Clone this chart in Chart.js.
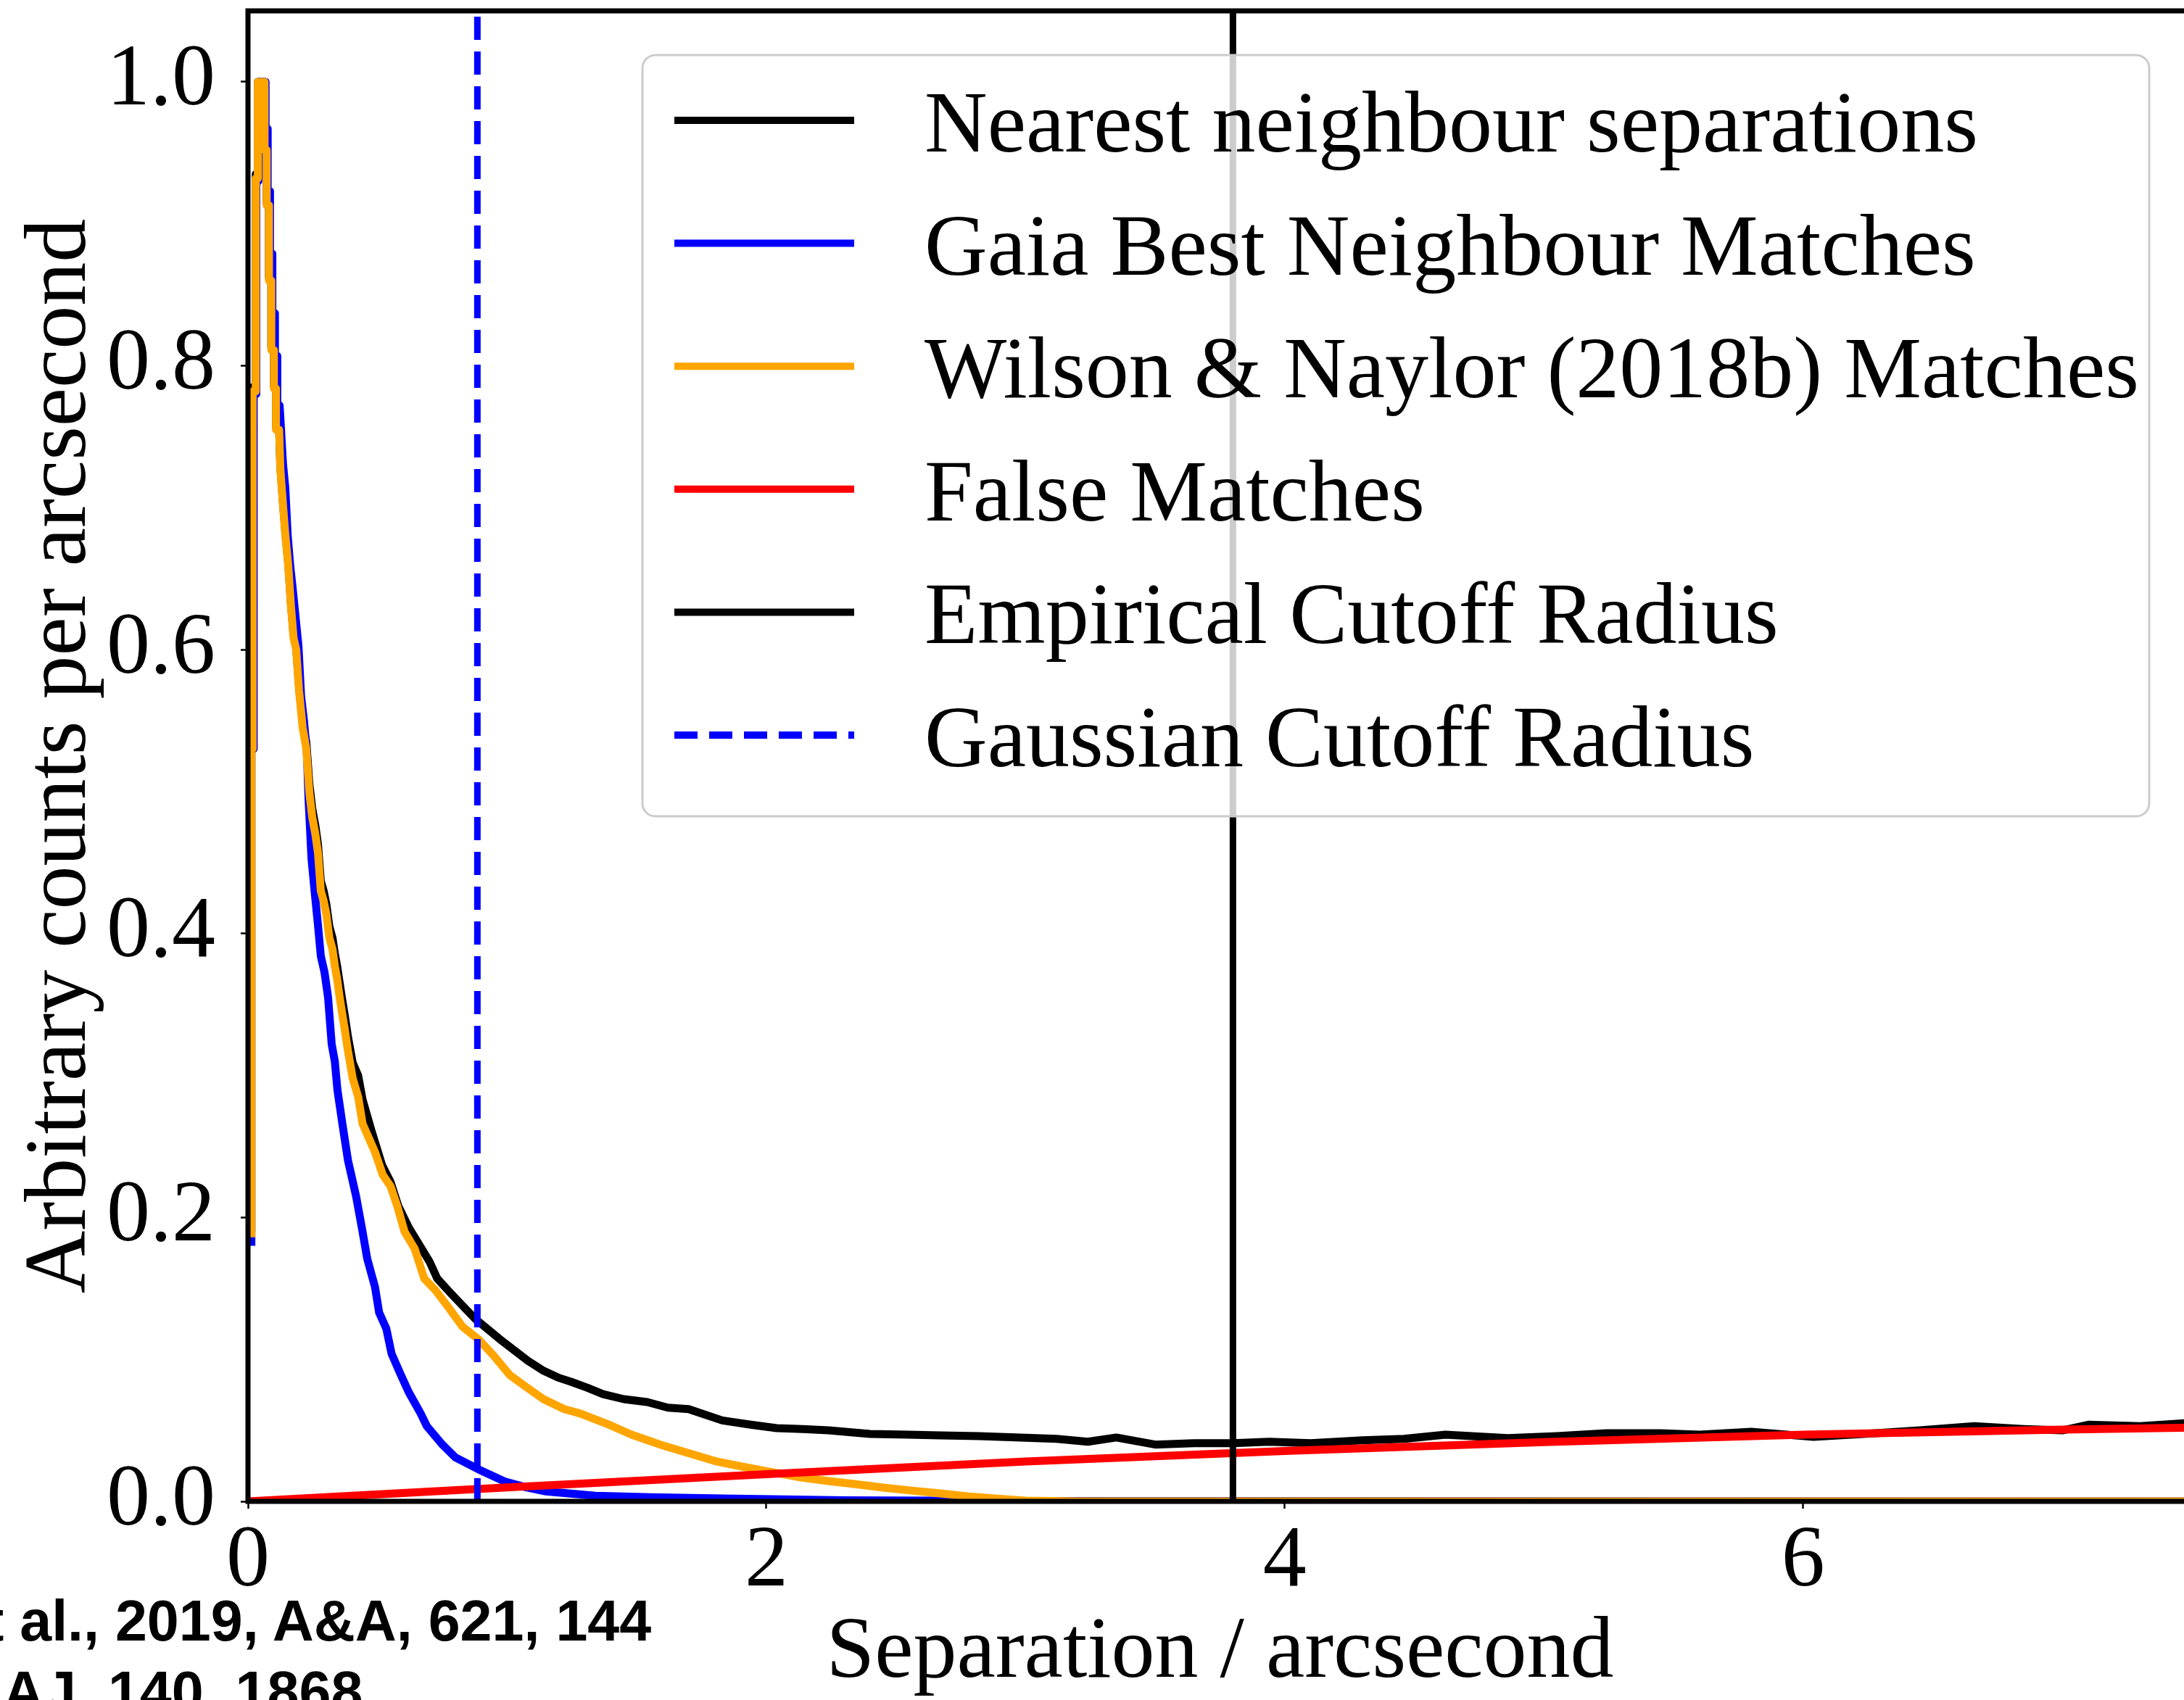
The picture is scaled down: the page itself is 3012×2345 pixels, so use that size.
<!DOCTYPE html>
<html>
<head>
<meta charset="utf-8">
<script src="https://cdn.jsdelivr.net/npm/chart.js@4.4.1/dist/chart.umd.min.js"></script>
<style>
  html, body { margin: 0; padding: 0; background: #fff; overflow: hidden; }
  #wrap { position: relative; width: 3012px; height: 2345px; overflow: hidden; }
  #placeholder1 { position: absolute; left: 0; top: 0; }
  .cite {
    position: absolute;
    font: bold 79px "Liberation Sans", Arial, sans-serif;
    line-height: 79px;
    color: #000;
    white-space: nowrap;
  }
</style>
</head>
<body>
<div id="wrap">
  <canvas id="placeholder1" width="3030" height="2345"></canvas>
  <div class="cite" style="left:-65px; top:2196px;">et al., 2019, A&amp;A, 621, 144</div>
  <div class="cite" style="left:4px; top:2294px;">AJ, 140, 1868</div>
</div>
<script>
// separation (arcsec) / normalised counts
const nnX = [0.013, 0.013, 0.018, 0.018, 0.030, 0.030, 0.038, 0.038, 0.064, 0.064, 0.072, 0.072, 0.081, 0.081, 0.090, 0.090, 0.100, 0.100, 0.108, 0.108, 0.120,
  0.125, 0.135, 0.144, 0.155, 0.166, 0.176, 0.186, 0.197, 0.211, 0.225, 0.237, 0.248, 0.260, 0.270, 0.281, 0.292, 0.302, 0.314, 0.326, 0.335, 0.344, 0.353, 0.363, 0.372, 0.386, 0.404, 0.425, 0.442,
  0.475, 0.517, 0.55, 0.58, 0.62, 0.66, 0.70, 0.73, 0.78, 0.853, 0.88, 0.937, 0.98, 1.03, 1.08, 1.14, 1.20, 1.25, 1.31, 1.37, 1.45, 1.54, 1.62, 1.70, 1.83, 1.94, 2.04, 2.14, 2.24, 2.40, 2.55, 2.67, 2.82, 2.98, 3.12, 3.24,
  3.35, 3.5, 3.65, 3.8, 3.94, 4.1, 4.3, 4.46, 4.62, 4.86, 5.05, 5.24, 5.45, 5.6, 5.8, 6.04, 6.28, 6.45, 6.66, 6.85, 7.0, 7.1, 7.3, 7.47, 7.6];
const nnY = [0.19, 0.535, 0.535, 0.785, 0.785, 0.935, 0.935, 1.0, 1.0, 0.954, 0.954, 0.915, 0.915, 0.862, 0.862, 0.813, 0.813, 0.786, 0.786, 0.757, 0.757,
  0.729, 0.704, 0.683, 0.662, 0.632, 0.610, 0.602, 0.574, 0.548, 0.535, 0.505, 0.488, 0.476, 0.463, 0.437, 0.430, 0.421, 0.405, 0.397, 0.386, 0.377, 0.366, 0.354, 0.344, 0.327, 0.309, 0.300, 0.283,
  0.262, 0.237, 0.225, 0.208, 0.193, 0.181, 0.169, 0.157, 0.147, 0.133, 0.128, 0.1195, 0.113, 0.106, 0.099, 0.092, 0.087, 0.084, 0.080, 0.0755, 0.072, 0.070, 0.066, 0.065, 0.057, 0.054, 0.0516, 0.051, 0.050, 0.0475, 0.047, 0.0465, 0.046, 0.045, 0.044, 0.042,
  0.045, 0.040, 0.041, 0.041, 0.042, 0.041, 0.043, 0.044, 0.047, 0.0445, 0.046, 0.048, 0.048, 0.047, 0.049, 0.0455, 0.048, 0.050, 0.053, 0.051, 0.050, 0.054, 0.053, 0.055, 0.055];

const gaiaX = [0.013, 0.013, 0.022, 0.022, 0.032, 0.032, 0.040, 0.040, 0.068, 0.068, 0.076, 0.076, 0.085, 0.085, 0.094, 0.094, 0.104, 0.104, 0.113, 0.113, 0.122,
  0.126, 0.135, 0.144, 0.153, 0.163, 0.172, 0.183, 0.195, 0.205, 0.216, 0.228, 0.233, 0.245, 0.258, 0.270, 0.281, 0.295, 0.309, 0.323, 0.335, 0.345, 0.365, 0.386, 0.417, 0.442,
  0.46, 0.49, 0.506, 0.534, 0.554, 0.59, 0.62, 0.666, 0.69, 0.75, 0.80, 0.89, 0.99, 1.07, 1.15, 1.34, 1.55, 1.83, 2.3, 3.0, 7.6];
const gaiaY = [0.18, 0.53, 0.53, 0.78, 0.78, 0.93, 0.93, 1.0, 1.0, 0.967, 0.967, 0.923, 0.923, 0.879, 0.879, 0.837, 0.837, 0.807, 0.807, 0.772, 0.772,
  0.760, 0.731, 0.714, 0.681, 0.659, 0.644, 0.624, 0.602, 0.567, 0.550, 0.525, 0.497, 0.453, 0.428, 0.406, 0.384, 0.373, 0.355, 0.322, 0.310, 0.290, 0.265, 0.240, 0.215, 0.190,
  0.171, 0.151, 0.133, 0.1215, 0.104, 0.089, 0.077, 0.062, 0.053, 0.040, 0.031, 0.0225, 0.014, 0.010, 0.007, 0.004, 0.003, 0.002, 0.0008, 0.0002, 0];

const wnX = [0.013, 0.013, 0.018, 0.018, 0.030, 0.030, 0.038, 0.038, 0.064, 0.064, 0.072, 0.072, 0.081, 0.081, 0.090, 0.090, 0.100, 0.100, 0.108, 0.108, 0.120,
  0.125, 0.135, 0.144, 0.155, 0.166, 0.176, 0.186, 0.197, 0.211, 0.225, 0.237, 0.248, 0.260, 0.270, 0.281, 0.292, 0.302, 0.314, 0.326, 0.335, 0.344, 0.353, 0.363, 0.372, 0.386, 0.404, 0.425, 0.442,
  0.49, 0.52, 0.55, 0.576, 0.604, 0.643, 0.68, 0.722, 0.772, 0.828, 0.89, 0.946, 1.01, 1.07, 1.14, 1.22, 1.28, 1.38, 1.48, 1.59, 1.70, 1.81, 1.92, 2.02, 2.13, 2.24, 2.35, 2.45, 2.56, 2.67, 2.78, 2.88, 3.0, 3.2, 7.6];
const wnY = [0.186, 0.53, 0.53, 0.782, 0.782, 0.932, 0.932, 1.0, 1.0, 0.952, 0.952, 0.913, 0.913, 0.860, 0.860, 0.811, 0.811, 0.784, 0.784, 0.755, 0.755,
  0.727, 0.702, 0.681, 0.660, 0.630, 0.608, 0.600, 0.571, 0.545, 0.530, 0.499, 0.482, 0.470, 0.457, 0.430, 0.423, 0.414, 0.397, 0.389, 0.377, 0.368, 0.356, 0.344, 0.334, 0.317, 0.298, 0.285, 0.266,
  0.246, 0.230, 0.222, 0.208, 0.190, 0.178, 0.157, 0.149, 0.137, 0.123, 0.114, 0.103, 0.089, 0.081, 0.072, 0.065, 0.062, 0.055, 0.047, 0.040, 0.034, 0.028, 0.024, 0.0206, 0.017, 0.0143, 0.012, 0.0097, 0.0076, 0.0056, 0.0035, 0.002, 0.0005, 0, 0];

const falseX = [0, 1, 2, 3, 4, 5, 6, 7, 7.6];
const falseY = [0, 0.0098, 0.0192, 0.0281, 0.0355, 0.0418, 0.047, 0.0505, 0.0522];

const empiricalCutoff = 3.80;
const gaussianCutoff = 0.885;

const xTicks = [0, 2, 4, 6];
const yTicks = [0.0, 0.2, 0.4, 0.6, 0.8, 1.0];
const xMax = 7.5;
const yMax = 1.05;

const pts = (xs, ys) => xs.map((x, i) => ({ x: x, y: ys[i] }));
const vline = (x) => [{ x: x, y: 0 }, { x: x, y: yMax }];

const serif = '"Liberation Serif", "Times New Roman", serif';
Chart.defaults.font.family = serif;
Chart.defaults.color = '#000';

// matplotlib-style frame drawn over the curves
const framePlugin = {
    id: 'frame',
    afterDatasetsDraw(chart) {
        const { ctx, chartArea: a } = chart;
        ctx.save();
        ctx.strokeStyle = '#000';
        ctx.lineWidth = 7;
        ctx.strokeRect(a.left, a.top, a.right - a.left, a.bottom - a.top);
        ctx.restore();
    }
};

// legend box inside the axes, upper right
const boxLegend = {
    id: 'boxLegend',
    afterDraw(chart) {
        const { ctx, chartArea: a } = chart;
        const left = a.left + 544, top = a.top + 61, w = 2078, h = 1050;
        ctx.save();
        ctx.beginPath();
        ctx.roundRect(left, top, w, h, 18);
        ctx.fillStyle = 'rgba(255,255,255,0.8)';
        ctx.fill();
        ctx.lineWidth = 3;
        ctx.strokeStyle = '#cccccc';
        ctx.stroke();
        ctx.font = '120px ' + serif;
        ctx.textBaseline = 'alphabetic';
        chart.data.datasets.forEach((ds, i) => {
            const y = top + 90 + i * 169.6;
            ctx.beginPath();
            ctx.setLineDash(ds.borderDash || []);
            ctx.lineWidth = 10;
            ctx.lineCap = 'butt';
            ctx.strokeStyle = ds.borderColor;
            ctx.moveTo(left + 44, y);
            ctx.lineTo(left + 292, y);
            ctx.stroke();
            ctx.setLineDash([]);
            ctx.fillStyle = '#000';
            ctx.fillText(ds.label, left + 389, y + 43);
        });
        ctx.restore();
    }
};

const ctx = document.getElementById('placeholder1');

const line = (label, data, color, order, extra) => Object.assign({
    label: label,
    data: data,
    borderColor: color,
    backgroundColor: color,
    borderWidth: 11,
    pointRadius: 0,
    tension: 0,
    borderJoinStyle: 'round',
    borderCapStyle: 'butt',
    order: order
}, extra || {});

const data = {
    datasets: [
        line('Nearest neighbour separations', pts(nnX, nnY), '#000000', 6),
        line('Gaia Best Neighbour Matches', pts(gaiaX, gaiaY), '#0000ff', 5),
        line('Wilson & Naylor (2018b) Matches', pts(wnX, wnY), '#ffa500', 4),
        line('False Matches', pts(falseX, falseY), '#ff0000', 3),
        line('Empirical Cutoff Radius', vline(empiricalCutoff), '#000000', 2, { borderWidth: 9 }),
        line('Gaussian Cutoff Radius', vline(gaussianCutoff), '#0000ff', 1, { borderWidth: 9, borderDash: [32, 16] })
    ]
};

const config = {
    type: 'line',
    data: data,
    options: {
        responsive: false,
        animation: false,
        layout: { padding: { left: 0, top: 15, right: 7, bottom: 0 } },
        plugins: {
            legend: { display: false },
            tooltip: { enabled: false }
        },
        scales: {
            x: {
                type: 'linear',
                min: 0,
                max: xMax,
                afterBuildTicks: (scale) => { scale.ticks = xTicks.map(v => ({ value: v })); },
                afterFit: (scale) => {
                    scale.height = 274;
                    scale.paddingLeft = 0;
                    scale.paddingRight = 0;
                },
                border: { display: false },
                grid: { drawOnChartArea: false, drawTicks: true, tickLength: 10, tickWidth: 2.5, tickColor: '#000' },
                ticks: { padding: 14, font: { size: 120, lineHeight: 1 }, maxRotation: 0, callback: (v) => String(v) },
                title: {
                    display: true,
                    text: 'Separation / arcsecond',
                    font: { size: 120, lineHeight: 1 },
                    padding: { top: 0, bottom: 4 }
                }
            },
            y: {
                min: 0,
                max: yMax,
                afterBuildTicks: (scale) => { scale.ticks = yTicks.map(v => ({ value: v })); },
                afterFit: (scale) => {
                    scale.width = 342;
                    scale.paddingTop = 0;
                    scale.paddingBottom = 0;
                },
                border: { display: false },
                grid: { drawOnChartArea: false, drawTicks: true, tickLength: 10, tickWidth: 2.5, tickColor: '#000' },
                ticks: { padding: 35, font: { size: 120, lineHeight: 1 }, callback: (v) => v.toFixed(1) },
                title: {
                    display: true,
                    text: 'Arbitrary counts per arcsecond',
                    font: { size: 120, lineHeight: 1 },
                    padding: { top: 25, bottom: 0 }
                }
            }
        }
    },
    plugins: [framePlugin, boxLegend]
};

const sepChart = new Chart(ctx, config);
</script>
</body>
</html>
